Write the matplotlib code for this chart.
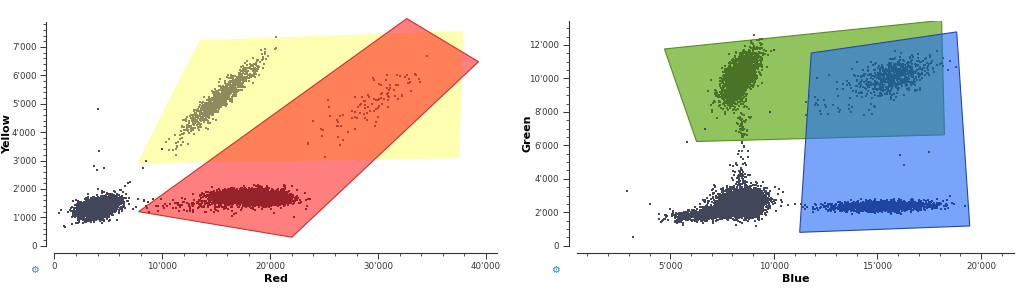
import numpy as np
import matplotlib
matplotlib.use("Agg")
import matplotlib.pyplot as plt
from matplotlib.patches import Polygon
from matplotlib.ticker import MultipleLocator, FuncFormatter

# ---- gates (polygon vertices) ----
yellow_gate_x = [7650, 13450, 37900, 37500]
yellow_gate_y = [2900, 7240, 7570, 3080]
red_gate_x = [7800, 32650, 39300, 22000]
red_gate_y = [1200, 8000, 6480, 300]
green_gate_x = [4720, 18100, 18240, 6270]
green_gate_y = [11760, 13470, 6630, 6230]
blue_gate_x = [11810, 18830, 19460, 11250]
blue_gate_y = [11520, 12780, 1180, 800]

# ---- point clouds: centre, spread in x, spread in y, correlation, count ----
# left panel (Red vs Yellow)
left_cx = [3900, 5300, 15500, 17800, 19900, 14500, 29500]
left_cy = [1320, 1520, 5250, 1720, 1600, 1450, 5000]
left_sdx = [850, 650, 1700, 1700, 1000, 3800, 2800]
left_sdy = [170, 150, 620, 130, 90, 150, 700]
left_rho = [0.3, 0.35, 0.94, 0.2, 0.1, 0.0, 0.85]
left_n = [3000, 250, 1000, 2600, 1500, 150, 100]
left_col = ["#41465a", "#41465a", "#8c8c5f", "#96232a", "#96232a", "#96232a", "#b8402e"]

# right panel (Blue vs Green)
right_cx = [8450, 6900, 8450, 8350, 8450, 15800, 14500, 15150]
right_cy = [2600, 1900, 4200, 10000, 7300, 10150, 9400, 2360]
right_sdx = [600, 900, 250, 420, 200, 800, 1500, 1200]
right_sdy = [400, 200, 800, 750, 600, 520, 800, 140]
right_rho = [0.1, 0.5, 0.0, 0.6, 0.0, 0.45, 0.3, 0.2]
right_n = [3000, 900, 80, 2500, 50, 600, 80, 1800]
right_col = ["#41465a", "#41465a", "#41465a", "#4b7328", "#4b7328", "#235f8c", "#235f8c", "#1e46a0"]

# isolated outliers
left_out_x = [900, 1000, 4000, 4100, 3700, 3900, 4600, 4000, 6200, 6500, 6800, 7000, 7300, 7600, 8200, 8500, 10000]
left_out_y = [700, 650, 4800, 3350, 2800, 2650, 2750, 2000, 1950, 2100, 2200, 2250, 1300, 1350, 2750, 3000, 3400]
right_out_x = [3200, 2900, 4000, 5800, 6700, 10000, 9800, 16100, 16300, 17500, 18500, 11000, 11300]
right_out_y = [500, 3300, 2500, 6200, 7000, 11700, 8000, 5400, 4800, 5600, 3000, 2500, 2500]


def fmt(v, pos):
    return f"{int(round(v)):,}".replace(",", "'")


def cloud(rng, cx, cy, sdx, sdy, rho, n):
    cov = [[sdx * sdx, rho * sdx * sdy], [rho * sdx * sdy, sdy * sdy]]
    pts = rng.multivariate_normal([cx, cy], cov, n)
    return pts[:, 0], pts[:, 1]


def style(ax, xmaj, xmin, ymaj, ymin):
    for s in ["top", "right"]:
        ax.spines[s].set_visible(False)
    ax.spines["left"].set_position(("outward", 6))
    ax.spines["bottom"].set_position(("outward", 5))
    for s in ["left", "bottom"]:
        ax.spines[s].set_color("#333333")
        ax.spines[s].set_linewidth(0.8)
    ax.xaxis.set_major_locator(MultipleLocator(xmaj))
    ax.xaxis.set_minor_locator(MultipleLocator(xmin))
    ax.yaxis.set_major_locator(MultipleLocator(ymaj))
    ax.yaxis.set_minor_locator(MultipleLocator(ymin))
    ax.xaxis.set_major_formatter(FuncFormatter(fmt))
    ax.yaxis.set_major_formatter(FuncFormatter(fmt))
    ax.tick_params(which="major", length=4, width=0.7, labelsize=6.2, colors="#333333", pad=3)
    ax.tick_params(which="minor", length=2.5, width=0.6, colors="#333333")


rng = np.random.default_rng(3)
fig = plt.figure(figsize=(10.24, 2.95), dpi=100)

# ---- left panel ----
ax1 = fig.add_axes([0.0532, 0.1671, 0.432, 0.7583])
ax1.set_xlim(0, 41000)
ax1.set_ylim(0, 7880)
ax1.add_patch(Polygon(np.column_stack([yellow_gate_x, yellow_gate_y]), closed=True,
                      facecolor=(1, 1, 0, 0.3), edgecolor="none", zorder=1, clip_on=False))
ax1.add_patch(Polygon(np.column_stack([red_gate_x, red_gate_y]), closed=True,
                      facecolor=(1, 0, 0, 0.5), edgecolor="#c83030", linewidth=0.8, zorder=2, clip_on=False))
for i in range(len(left_cx)):
    x, y = cloud(rng, left_cx[i], left_cy[i], left_sdx[i], left_sdy[i], left_rho[i], left_n[i])
    ax1.scatter(x, y, s=1.6, marker="s", color=left_col[i], linewidths=0, zorder=3)
ax1.scatter(left_out_x, left_out_y, s=1.6, marker="s", color="#41465a", linewidths=0, zorder=3)
style(ax1, 10000, 2000, 1000, 200)
ax1.set_xlabel("Red", fontsize=8, fontweight="bold", va="center")
ax1.set_ylabel("Yellow", fontsize=8, fontweight="bold", va="center")
ax1.xaxis.set_label_coords(0.5, -0.15)
ax1.yaxis.set_label_coords(-0.107, 0.5)

# ---- right panel ----
ax2 = fig.add_axes([0.5635, 0.1671, 0.4268, 0.7627])
ax2.set_xlim(500, 21600)
ax2.set_ylim(0, 13450)
ax2.add_patch(Polygon(np.column_stack([green_gate_x, green_gate_y]), closed=True,
                      facecolor=(108 / 255, 175 / 255, 42 / 255, 0.75), edgecolor="#5a8c28",
                      linewidth=0.8, zorder=1))
ax2.add_patch(Polygon(np.column_stack([blue_gate_x, blue_gate_y]), closed=True,
                      facecolor=(30 / 255, 105 / 255, 247 / 255, 0.6), edgecolor="#2846aa",
                      linewidth=0.8, zorder=2))
for i in range(len(right_cx)):
    x, y = cloud(rng, right_cx[i], right_cy[i], right_sdx[i], right_sdy[i], right_rho[i], right_n[i])
    ax2.scatter(x, y, s=1.6, marker="s", color=right_col[i], linewidths=0, zorder=3)
ax2.scatter(right_out_x, right_out_y, s=1.6, marker="s", color="#41465a", linewidths=0, zorder=3)
style(ax2, 5000, 1000, 2000, 500)
ax2.set_xlabel("Blue", fontsize=8, fontweight="bold", va="center")
ax2.set_ylabel("Green", fontsize=8, fontweight="bold", va="center")
ax2.xaxis.set_label_coords(0.5, -0.149)
ax2.yaxis.set_label_coords(-0.114, 0.5)

# small gear icons
fig.text(0.034, 0.085, "\u2699", fontsize=7, color="#2a7fd0", ha="center", va="center")
fig.text(0.542, 0.085, "\u2699", fontsize=7, color="#2a7fd0", ha="center", va="center")

fig.savefig("out.png", dpi=100)
